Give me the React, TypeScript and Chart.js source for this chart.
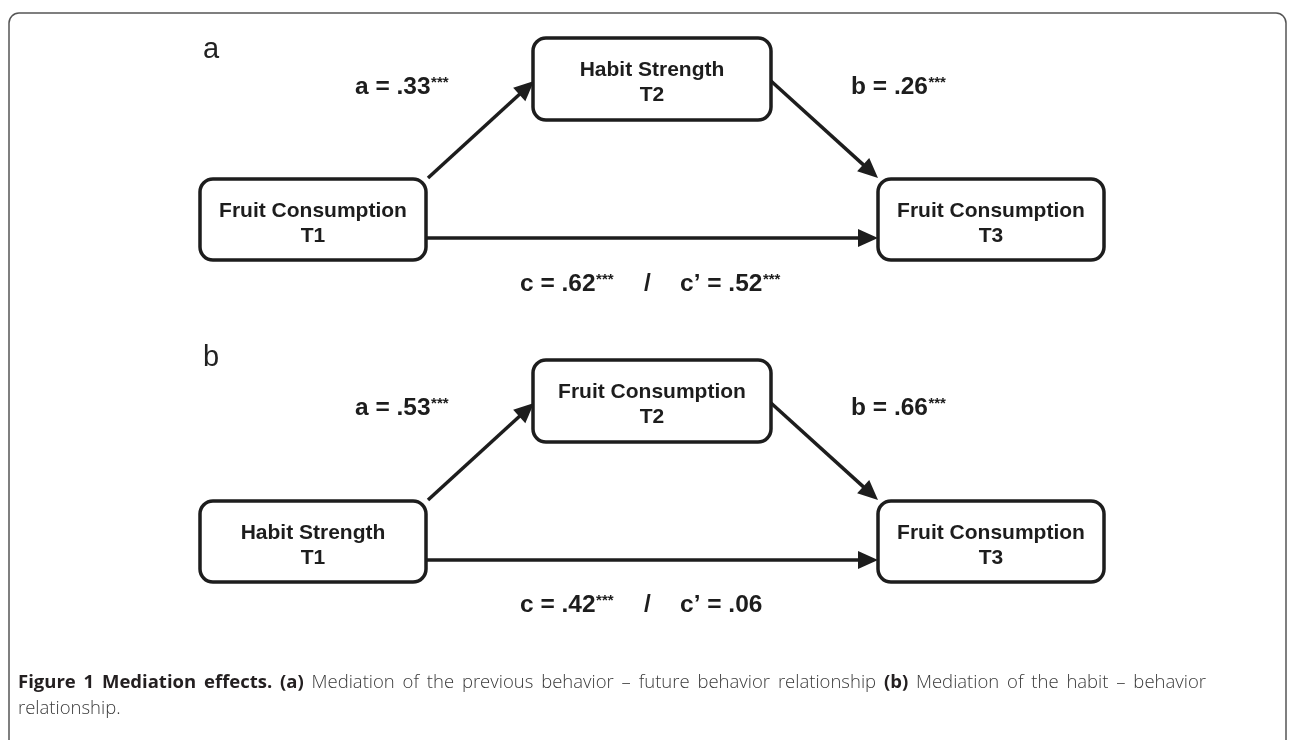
import React, { useEffect, useRef } from "react";
import { Chart, registerables } from "chart.js";

Chart.register(...registerables);

// ---- data ----
const panelLetters = ["a", "b"];
const predictorLabels = ["Fruit Consumption", "Habit Strength"];
const predictorTimes = ["T1", "T1"];
const mediatorLabels = ["Habit Strength", "Fruit Consumption"];
const mediatorTimes = ["T2", "T2"];
const outcomeLabels = ["Fruit Consumption", "Fruit Consumption"];
const outcomeTimes = ["T3", "T3"];
const coefA = [".33", ".53"];
const sigA = ["***", "***"];
const coefB = [".26", ".66"];
const sigB = ["***", "***"];
const coefC = [".62", ".42"];
const sigC = ["***", "***"];
const coefCp = [".52", ".06"];
const sigCp = ["***", ""];
const captionBold1 = "Figure 1 Mediation effects. (a)";
const captionReg1 = "Mediation of the previous behavior \u2013 future behavior relationship";
const captionBold2 = "(b)";
const captionReg2 = "Mediation of the habit \u2013 behavior";
const captionLine2 = "relationship.";

// ---- layout (data units == pixels) ----
const W = 1290;
const H = 740;
const panelOffsets = [0, 322];
const boxPred = { x0: 200, x1: 426, y0: 179, y1: 260 };
const boxMed = { x0: 533, x1: 771, y0: 38, y1: 120 };
const boxOut = { x0: 878, x1: 1104, y0: 179, y1: 260 };
const arrowA = { x0: 428, y0: 178, x1: 534, y1: 81 };
const arrowB = { x0: 771, y0: 81, x1: 878, y1: 178 };
const arrowC = { x0: 426, y0: 238, x1: 878, y1: 238 };
const HEAD = 20;
const HALF = 9;

const INK = "#1d1d1d";
const DFONT = '"Liberation Sans", Arial, sans-serif';
const CFONT = '"Open Sans", sans-serif';

function shorten(a: { x0: number; y0: number; x1: number; y1: number }, d: number) {
  const dx = a.x1 - a.x0;
  const dy = a.y1 - a.y0;
  const L = Math.hypot(dx, dy);
  return { x: a.x1 - (dx / L) * d, y: a.y1 - (dy / L) * d };
}

function buildDatasets() {
  const ds: any[] = [];
  panelOffsets.forEach((off) => {
    [arrowA, arrowB, arrowC].forEach((a) => {
      const end = shorten(a, HEAD - 3);
      ds.push({
        data: [
          { x: a.x0, y: a.y0 + off },
          { x: end.x, y: end.y + off },
        ],
        showLine: true,
        borderColor: INK,
        borderWidth: 3.5,
        pointRadius: 0,
        borderCapStyle: "butt",
      });
    });
  });
  return ds;
}

const diagramPlugin = {
  id: "diagram",
  beforeDatasetsDraw(chart: any) {
    const ctx = chart.ctx as CanvasRenderingContext2D;
    ctx.save();
    ctx.fillStyle = "#fff";
    ctx.fillRect(0, 0, chart.width, chart.height);
    ctx.restore();
  },
  afterDatasetsDraw(chart: any) {
    const ctx = chart.ctx as CanvasRenderingContext2D;
    const xs = chart.scales.x;
    const ys = chart.scales.y;
    const px = (v: number) => xs.getPixelForValue(v);
    const py = (v: number) => ys.getPixelForValue(v);

    ctx.save();
    // outer frame
    ctx.strokeStyle = "#555";
    ctx.lineWidth = 1.5;
    ctx.beginPath();
    const fx0 = px(9), fx1 = px(1286), fy0 = py(13), fyb = py(745), r = 10;
    ctx.moveTo(fx0, fyb);
    ctx.lineTo(fx0, fy0 + r);
    ctx.arcTo(fx0, fy0, fx0 + r, fy0, r);
    ctx.lineTo(fx1 - r, fy0);
    ctx.arcTo(fx1, fy0, fx1, fy0 + r, r);
    ctx.lineTo(fx1, fyb);
    ctx.stroke();

    const drawBox = (b: any, off: number, l1: string, l2: string) => {
      const x0 = px(b.x0), x1 = px(b.x1), y0 = py(b.y0 + off), y1 = py(b.y1 + off);
      ctx.fillStyle = "#fff";
      ctx.strokeStyle = INK;
      ctx.lineWidth = 3.5;
      ctx.beginPath();
      ctx.roundRect(x0, y0, x1 - x0, y1 - y0, 13);
      ctx.fill();
      ctx.stroke();
      ctx.fillStyle = INK;
      ctx.font = `bold 21px ${DFONT}`;
      ctx.textAlign = "center";
      ctx.textBaseline = "alphabetic";
      const cx = (x0 + x1) / 2;
      const cy = (y0 + y1) / 2;
      ctx.fillText(l1, cx, cy - 3);
      ctx.fillText(l2, cx, cy + 22);
    };

    const drawHead = (a: any, off: number) => {
      const tx = px(a.x1), ty = py(a.y1 + off);
      const sx = px(a.x0), sy = py(a.y0 + off);
      const ang = Math.atan2(ty - sy, tx - sx);
      ctx.fillStyle = INK;
      ctx.beginPath();
      ctx.moveTo(tx, ty);
      ctx.lineTo(tx - HEAD * Math.cos(ang) + HALF * Math.sin(ang), ty - HEAD * Math.sin(ang) - HALF * Math.cos(ang));
      ctx.lineTo(tx - HEAD * Math.cos(ang) - HALF * Math.sin(ang), ty - HEAD * Math.sin(ang) + HALF * Math.cos(ang));
      ctx.closePath();
      ctx.fill();
    };

    const drawCoef = (x: number, y: number, main: string, sup: string) => {
      ctx.fillStyle = INK;
      ctx.textAlign = "left";
      ctx.textBaseline = "alphabetic";
      ctx.font = `bold 24.5px ${DFONT}`;
      ctx.fillText(main, x, y);
      const w = ctx.measureText(main).width;
      if (sup) {
        ctx.font = `bold 15px ${DFONT}`;
        ctx.fillText(sup, x + w + 0.5, y - 7.5);
      }
    };

    panelOffsets.forEach((off, i) => {
      // panel letter
      ctx.fillStyle = "#222";
      ctx.font = `29px ${DFONT}`;
      ctx.textAlign = "left";
      ctx.textBaseline = "alphabetic";
      ctx.fillText(panelLetters[i], px(203), py(i === 0 ? 58 : 366));

      drawHead(arrowA, off);
      drawHead(arrowB, off);
      drawHead(arrowC, off);

      drawBox(boxPred, off, predictorLabels[i], predictorTimes[i]);
      drawBox(boxMed, off, mediatorLabels[i], mediatorTimes[i]);
      drawBox(boxOut, off, outcomeLabels[i], outcomeTimes[i]);

      drawCoef(px(355), py(94 + (i === 0 ? 0 : 321)), `a = ${coefA[i]}`, sigA[i]);
      drawCoef(px(851), py(94 + (i === 0 ? 0 : 321)), `b = ${coefB[i]}`, sigB[i]);
      const cy = py(i === 0 ? 291 : 612);
      drawCoef(px(520), cy, `c = ${coefC[i]}`, sigC[i]);
      drawCoef(px(644), cy, "/", "");
      drawCoef(px(680), cy, `c\u2019 = ${coefCp[i]}`, sigCp[i]);
    });

    // caption: first line justified to the column width, last line left-aligned
    ctx.textAlign = "left";
    ctx.textBaseline = "alphabetic";
    const boldFont = `bold 18.5px ${CFONT}`;
    const regFont = `300 18.5px ${CFONT}`;
    const words: { t: string; b: boolean; w: number }[] = [];
    const segs: [string, boolean][] = [
      [captionBold1, true],
      [captionReg1, false],
      [captionBold2, true],
      [captionReg2, false],
    ];
    segs.forEach(([s, b]) => {
      s.split(" ").forEach((t) => {
        ctx.font = b ? boldFont : regFont;
        words.push({ t, b, w: ctx.measureText(t).width });
      });
    });
    const left = px(18);
    const right = px(1206);
    const total = words.reduce((s, w) => s + w.w, 0);
    const gap = (right - left - total) / (words.length - 1);
    let cx = left;
    const cy1 = py(688);
    words.forEach((w) => {
      ctx.font = w.b ? boldFont : regFont;
      ctx.fillStyle = w.b ? "#231f20" : "#3a3a3a";
      ctx.fillText(w.t, cx, cy1);
      cx += w.w + gap;
    });
    ctx.font = regFont;
    ctx.fillStyle = "#3a3a3a";
    ctx.fillText(captionLine2, px(18), py(714));
    ctx.restore();
  },
};

export default function App() {
  const ref = useRef<HTMLCanvasElement | null>(null);
  useEffect(() => {
    if (!ref.current) return;
    const chart = new Chart(ref.current, {
      type: "scatter",
      data: { datasets: buildDatasets() },
      options: {
        animation: false,
        responsive: false,
        maintainAspectRatio: false,
        layout: { padding: 0 },
        plugins: { legend: { display: false }, tooltip: { enabled: false } },
        scales: {
          x: { type: "linear", min: 0, max: W, display: false },
          y: { type: "linear", min: 0, max: H, reverse: true, display: false },
        },
      },
      plugins: [diagramPlugin],
    });
    return () => chart.destroy();
  }, []);
  return (
    <div style={{ position: "absolute", left: 0, top: 0, width: W, height: H, background: "#fff" }}>
      <canvas ref={ref} width={W} height={H} style={{ width: W, height: H, display: "block" }} />
    </div>
  );
}
